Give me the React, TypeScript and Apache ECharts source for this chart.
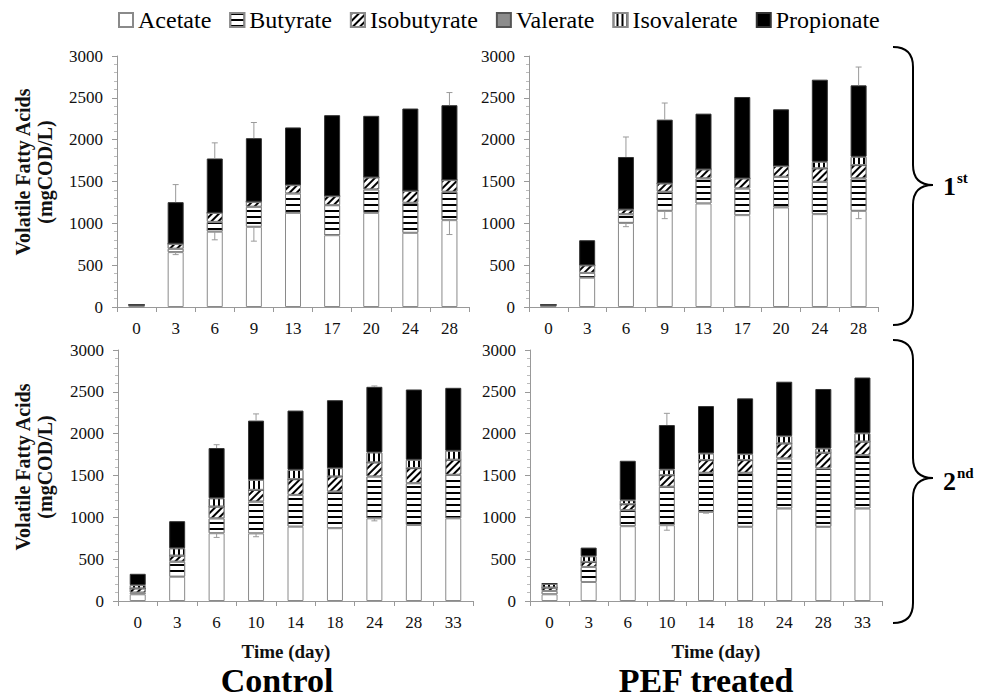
import React, { useEffect, useRef } from "react";
import * as echarts from "echarts";

// ---------- Data ----------
const acidNames = ["Acetate", "Butyrate", "Isobutyrate", "Valerate", "Isovalerate", "Propionate"];
const daysRun1 = ["0", "3", "6", "9", "13", "17", "20", "24", "28"];
const daysRun2 = ["0", "3", "6", "10", "14", "18", "24", "28", "33"];
const yMin = 0;
const yMax = 3000;
const yStep = 500;

// Control, 1st run
const ctrl1Acetate = [5, 656, 900, 958, 1125, 858, 1125, 886, 1038];
const ctrl1Butyrate = [10, 40, 117, 240, 232, 359, 280, 359, 339];
const ctrl1Isobutyrate = [10, 60, 108, 60, 100, 108, 144, 144, 140];
const ctrl1Valerate = [0, 0, 0, 0, 0, 0, 0, 0, 0];
const ctrl1Isovalerate = [0, 0, 0, 0, 0, 0, 0, 0, 0];
const ctrl1Propionate = [0, 497, 650, 760, 689, 968, 736, 983, 895];
const ctrl1TotalErr = [0, 210, 187, 187, 0, 0, 0, 0, 151];
const ctrl1AcetateErr = [0, 30, 97, 171, 0, 0, 0, 0, 172];

// PEF treated, 1st run
const pef1Acetate = [5, 350, 1005, 1149, 1237, 1098, 1190, 1110, 1149];
const pef1Butyrate = [10, 57, 104, 228, 300, 319, 366, 386, 388];
const pef1Isobutyrate = [10, 91, 57, 100, 108, 120, 128, 161, 159];
const pef1Valerate = [0, 0, 0, 0, 0, 0, 0, 0, 0];
const pef1Isovalerate = [0, 0, 0, 0, 0, 0, 0, 79, 100];
const pef1Propionate = [0, 300, 627, 762, 666, 973, 679, 981, 853];
const pef1TotalErr = [0, 0, 239, 199, 0, 0, 0, 0, 219];
const pef1AcetateErr = [0, 0, 45, 93, 0, 0, 0, 0, 93];

// Control, 2nd run
const ctrl2Acetate = [80, 290, 810, 808, 888, 870, 988, 908, 988];
const ctrl2Butyrate = [20, 180, 178, 380, 380, 438, 500, 500, 520];
const ctrl2Isobutyrate = [50, 72, 140, 140, 188, 180, 168, 180, 180];
const ctrl2Valerate = [0, 0, 0, 0, 0, 0, 0, 0, 0];
const ctrl2Isovalerate = [40, 88, 100, 120, 112, 100, 120, 100, 108];
const ctrl2Propionate = [135, 324, 600, 708, 708, 812, 784, 840, 752];
const ctrl2TotalErr = [0, 0, 40, 80, 0, 0, 10, 0, 0];
const ctrl2AcetateErr = [0, 0, 50, 40, 0, 0, 30, 0, 0];

// PEF treated, 2nd run
const pef2Acetate = [80, 227, 894, 906, 1065, 886, 1105, 886, 1105];
const pef2Butyrate = [40, 180, 191, 459, 467, 646, 599, 698, 639];
const pef2Isobutyrate = [40, 60, 72, 139, 152, 152, 179, 188, 161];
const pef2Valerate = [0, 0, 0, 0, 0, 0, 0, 0, 0];
const pef2Isovalerate = [45, 68, 48, 68, 80, 72, 88, 51, 100];
const pef2Propionate = [5, 103, 471, 531, 566, 666, 650, 711, 666];
const pef2TotalErr = [0, 0, 0, 140, 0, 0, 0, 0, 0];
const pef2AcetateErr = [0, 0, 0, 60, 15, 0, 0, 0, 0];

const panelTitles = ["Control", "PEF treated"];
const runLabels = [["1", "st"], ["2", "nd"]];
const yAxisTitle = ["Volatile Fatty Acids", "(mgCOD/L)"];
const xAxisTitle = "Time (day)";

// ---------- Styles ----------
const FONT = "Liberation Serif";
const BORDER = "#8a8a8a";

const acidStyles: any[] = [
  { color: "#ffffff", borderColor: BORDER, borderWidth: 1 },
  {
    color: "#ffffff",
    borderColor: BORDER,
    borderWidth: 1,
    decal: { symbol: "rect", symbolSize: 1, dashArrayX: [1, 0], dashArrayY: [2, 4], rotation: 0, color: "#000", backgroundColor: "#fff" },
  },
  {
    color: "#ffffff",
    borderColor: BORDER,
    borderWidth: 1,
    decal: { symbol: "rect", symbolSize: 1, dashArrayX: [1, 0], dashArrayY: [2, 3], rotation: -Math.PI / 4, color: "#000", backgroundColor: "#fff" },
  },
  { color: "#8c8c8c", borderColor: "#555", borderWidth: 1 },
  {
    color: "#ffffff",
    borderColor: BORDER,
    borderWidth: 1,
    decal: { symbol: "rect", symbolSize: 1, dashArrayX: [1, 0], dashArrayY: [2, 3], rotation: Math.PI / 2, color: "#000", backgroundColor: "#fff" },
  },
  { color: "#000000", borderColor: "#333", borderWidth: 1 },
];

const panels = [
  { days: daysRun1, acids: [ctrl1Acetate, ctrl1Butyrate, ctrl1Isobutyrate, ctrl1Valerate, ctrl1Isovalerate, ctrl1Propionate], totErr: ctrl1TotalErr, acErr: ctrl1AcetateErr },
  { days: daysRun1, acids: [pef1Acetate, pef1Butyrate, pef1Isobutyrate, pef1Valerate, pef1Isovalerate, pef1Propionate], totErr: pef1TotalErr, acErr: pef1AcetateErr },
  { days: daysRun2, acids: [ctrl2Acetate, ctrl2Butyrate, ctrl2Isobutyrate, ctrl2Valerate, ctrl2Isovalerate, ctrl2Propionate], totErr: ctrl2TotalErr, acErr: ctrl2AcetateErr },
  { days: daysRun2, acids: [pef2Acetate, pef2Butyrate, pef2Isobutyrate, pef2Valerate, pef2Isovalerate, pef2Propionate], totErr: pef2TotalErr, acErr: pef2AcetateErr },
];

const grids = [
  { left: 117, top: 56, width: 352, height: 251 },
  { left: 529, top: 56, width: 349, height: 251 },
  { left: 118, top: 350, width: 355, height: 251 },
  { left: 530, top: 350, width: 352, height: 251 },
];

const braceTop = "M893,47 Q913,47 913,67 L913,165 Q913,185 933,185 Q913,185 913,205 L913,305 Q913,325 893,325";
const braceBottom = "M893,340 Q913,340 913,360 L913,458 Q913,478 933,478 Q913,478 913,498 L913,603 Q913,623 893,623";

let shapesRegistered = false;
function registerShapes() {
  if (shapesRegistered) return;
  echarts.graphic.registerShape("braceTop", echarts.graphic.extendPath(braceTop, {}) as any);
  echarts.graphic.registerShape("braceBottom", echarts.graphic.extendPath(braceBottom, {}) as any);
  shapesRegistered = true;
}

function buildOption() {
  const series: any[] = [];
  panels.forEach((p, pi) => {
    acidNames.forEach((name, ai) => {
      series.push({
        type: "bar",
        name,
        xAxisIndex: pi,
        yAxisIndex: pi,
        stack: "s" + pi,
        barWidth: 16,
        itemStyle: acidStyles[ai],
        emphasis: { disabled: true },
        data: p.acids[ai],
      });
    });
    const errData: number[][] = [];
    p.days.forEach((_, i) => {
      const total = p.acids.reduce((s, arr) => s + arr[i], 0);
      if (p.totErr[i] > 0) errData.push([i, total, total + p.totErr[i]]);
      if (p.acErr[i] > 0) errData.push([i, p.acids[0][i], p.acids[0][i] - p.acErr[i]]);
    });
    series.push({
      type: "custom",
      name: "err" + pi,
      xAxisIndex: pi,
      yAxisIndex: pi,
      z: 10,
      silent: true,
      encode: { x: 0, y: [1, 2] },
      data: errData,
      renderItem: (params: any, api: any) => {
        const x = api.value(0);
        const a = api.coord([x, api.value(1)]);
        const b = api.coord([x, api.value(2)]);
        const cw = 3;
        return {
          type: "group",
          children: [
            { type: "line", shape: { x1: a[0], y1: a[1], x2: b[0], y2: b[1] }, style: { stroke: "#9a9a9a", lineWidth: 1 } },
            { type: "line", shape: { x1: b[0] - cw, y1: b[1], x2: b[0] + cw, y2: b[1] }, style: { stroke: "#9a9a9a", lineWidth: 1 } },
          ],
        };
      },
    });
  });

  const axisLabelStyle = { fontFamily: FONT, fontSize: 17, color: "#111" };

  const xAxis = panels.map((p, pi) => ({
    type: "category",
    gridIndex: pi,
    data: p.days,
    axisLine: { lineStyle: { color: "#999" } },
    axisTick: { show: true, length: 5, lineStyle: { color: "#999" } },
    axisLabel: { ...axisLabelStyle, margin: 13 },
  }));

  const yAxis = panels.map((_, pi) => ({
    type: "value",
    gridIndex: pi,
    min: yMin,
    max: yMax,
    interval: yStep,
    axisLine: { show: true, lineStyle: { color: "#999" } },
    axisTick: { show: true, length: 5, lineStyle: { color: "#999" } },
    minorTick: { show: true, splitNumber: 5, length: 3, lineStyle: { color: "#bbb" } },
    splitLine: { show: false },
    axisLabel: { ...axisLabelStyle, margin: 14, formatter: (v: number) => String(v) },
  }));

  const graphic: any[] = [];
  // y-axis titles (left column)
  [172, 467].forEach((cy) => {
    graphic.push({
      type: "text",
      x: 34,
      y: cy,
      rotation: Math.PI / 2,
      style: {
        text: yAxisTitle.join("\n"),
        fontFamily: FONT,
        fontSize: 20,
        fontWeight: "bold",
        fill: "#111",
        align: "center",
        verticalAlign: "middle",
        lineHeight: 22,
      },
    });
  });
  // x-axis titles
  [286, 716].forEach((cx) => {
    graphic.push({
      type: "text",
      x: cx,
      y: 651,
      style: { text: xAxisTitle, fontFamily: FONT, fontSize: 19, fontWeight: "bold", fill: "#111", align: "center", verticalAlign: "middle" },
    });
  });
  // panel titles
  [277, 706].forEach((cx, i) => {
    graphic.push({
      type: "text",
      x: cx,
      y: 680,
      style: { text: panelTitles[i], fontFamily: FONT, fontSize: 34, fontWeight: "bold", fill: "#000", align: "center", verticalAlign: "middle" },
    });
  });
  // braces
  graphic.push({ type: "braceTop", x: 0, y: 0, style: { stroke: "#000", lineWidth: 2, fill: "none" } });
  graphic.push({ type: "braceBottom", x: 0, y: 0, style: { stroke: "#000", lineWidth: 2, fill: "none" } });
  // run labels
  [186, 481].forEach((cy, i) => {
    graphic.push({
      type: "text",
      x: 943,
      y: cy,
      style: { text: runLabels[i][0], fontFamily: FONT, fontSize: 26, fontWeight: "bold", fill: "#000", align: "left", verticalAlign: "middle" },
    });
    graphic.push({
      type: "text",
      x: 957,
      y: cy - 8,
      style: { text: runLabels[i][1], fontFamily: FONT, fontSize: 15, fontWeight: "bold", fill: "#000", align: "left", verticalAlign: "middle" },
    });
  });

  return {
    animation: false,
    backgroundColor: "#ffffff",
    legend: {
      left: 113,
      top: 3,
      icon: "rect",
      itemWidth: 14,
      itemHeight: 14,
      itemGap: 18,
      selectedMode: false,
      data: acidNames,
      textStyle: { fontFamily: FONT, fontSize: 24, color: "#000" },
    },
    grid: grids,
    xAxis,
    yAxis,
    series,
    graphic,
  };
}

export default function App() {
  const ref = useRef<HTMLDivElement>(null);
  useEffect(() => {
    if (!ref.current) return;
    registerShapes();
    const chart = echarts.init(ref.current, undefined, { renderer: "svg" });
    chart.setOption(buildOption() as any);
    return () => chart.dispose();
  }, []);
  return <div ref={ref} style={{ position: "absolute", left: 0, top: 0, width: 982, height: 700 }} />;
}
